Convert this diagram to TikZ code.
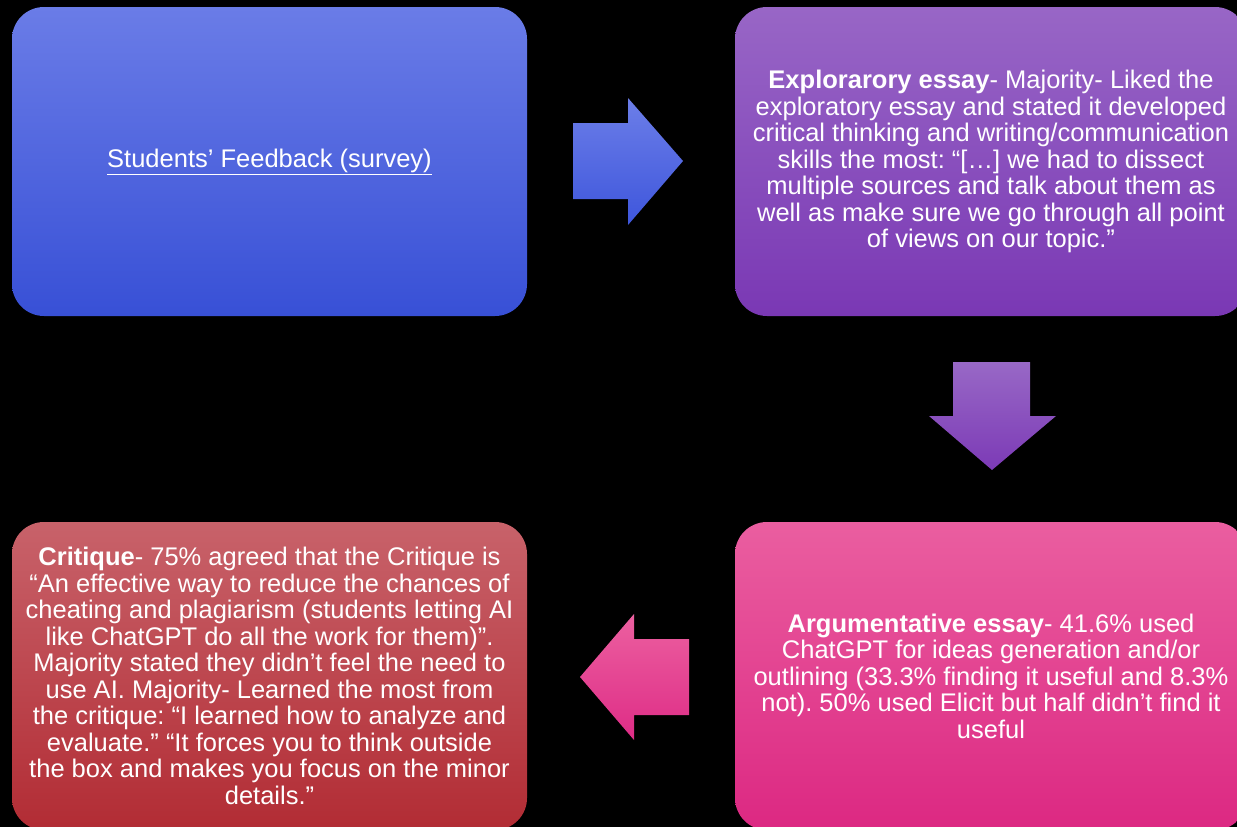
\documentclass[tikz,border=0pt]{standalone}
\usepackage{fontspec}
\setmainfont{Liberation Sans}
\frenchspacing
\definecolor{blueT}{RGB}{106,124,231}
\definecolor{blueB}{RGB}{56,80,214}
\definecolor{purT}{RGB}{152,102,198}
\definecolor{purB}{RGB}{122,56,180}
\definecolor{pinkT}{RGB}{234,94,160}
\definecolor{pinkB}{RGB}{220,40,130}
\definecolor{redT}{RGB}{200,98,106}
\definecolor{redB}{RGB}{178,44,52}
\definecolor{arBlueT}{RGB}{108,126,232}
\definecolor{arBlueB}{RGB}{62,86,220}
\definecolor{arPurT}{RGB}{152,104,198}
\definecolor{arPurB}{RGB}{124,58,182}
\definecolor{arPinkT}{RGB}{236,96,160}
\definecolor{arPinkB}{RGB}{222,44,134}
\begin{document}
\begin{tikzpicture}[x=1pt,y=-1pt,
  box/.style={rectangle, rounded corners=32pt, inner sep=0pt, text=white,
    align=center, font=\fontsize{25.5}{26.5}\selectfont\frenchspacing},
  blockarrow/.style={draw=none}]
\fill[black] (0,0) rectangle (1237,827);
\useasboundingbox (0,0) rectangle (1237,827);
\begin{scope}
\clip (0,0) rectangle (1237,827);
\node[box, top color=blueT, bottom color=blueB, minimum width=515pt, minimum height=309pt] (feedback) at (269.5,161.5)
  {\underline{Students’ Feedback (survey)}};
\node[box, top color=purT, bottom color=purB, minimum width=512pt, minimum height=309pt] (explor) at (991,161.5)
  {\textbf{Explorarory essay}- Majority- Liked the\\
   exploratory essay and stated it developed\\
   critical thinking and writing/communication\\
   skills the most: “[…] we had to dissect\\
   multiple sources and talk about them as\\
   well as make sure we go through all point\\
   of views on our topic.”};
\node[box, top color=pinkT, bottom color=pinkB, minimum width=512pt, minimum height=308pt] (argum) at (991,676)
  {\textbf{Argumentative essay}- 41.6\% used\\
   ChatGPT for ideas generation and/or\\
   outlining (33.3\% finding it useful and 8.3\%\\
   not). 50\% used Elicit but half didn’t find it\\
   useful};
\node[box, top color=redT, bottom color=redB, minimum width=515pt, minimum height=308pt] (critique) at (269.5,676)
  {\textbf{Critique}- 75\% agreed that the Critique is\\
   “An effective way to reduce the chances of\\
   cheating and plagiarism (students letting AI\\
   like ChatGPT do all the work for them)”.\\
   Majority stated they didn’t feel the need to\\
   use AI. Majority- Learned the most from\\
   the critique: “I learned how to analyze and\\
   evaluate.” “It forces you to think outside\\
   the box and makes you focus on the minor\\
   details.”};
\end{scope}
% block arrows
\path[blockarrow, top color=arBlueT, bottom color=arBlueB]
  (573,123) -- (628,123) -- (628,98) -- (683,161) -- (628,225) -- (628,199) -- (573,199) -- cycle;
\path[blockarrow, top color=arPurT, bottom color=arPurB]
  (953,362) -- (1030,362) -- (1030,416) -- (1056,416) -- (992,470) -- (929,416) -- (953,416) -- cycle;
\path[blockarrow, top color=arPinkT, bottom color=arPinkB]
  (689,639) -- (634,639) -- (634,614) -- (580,677) -- (634,740) -- (634,715) -- (689,715) -- cycle;
\end{tikzpicture}
\end{document}
